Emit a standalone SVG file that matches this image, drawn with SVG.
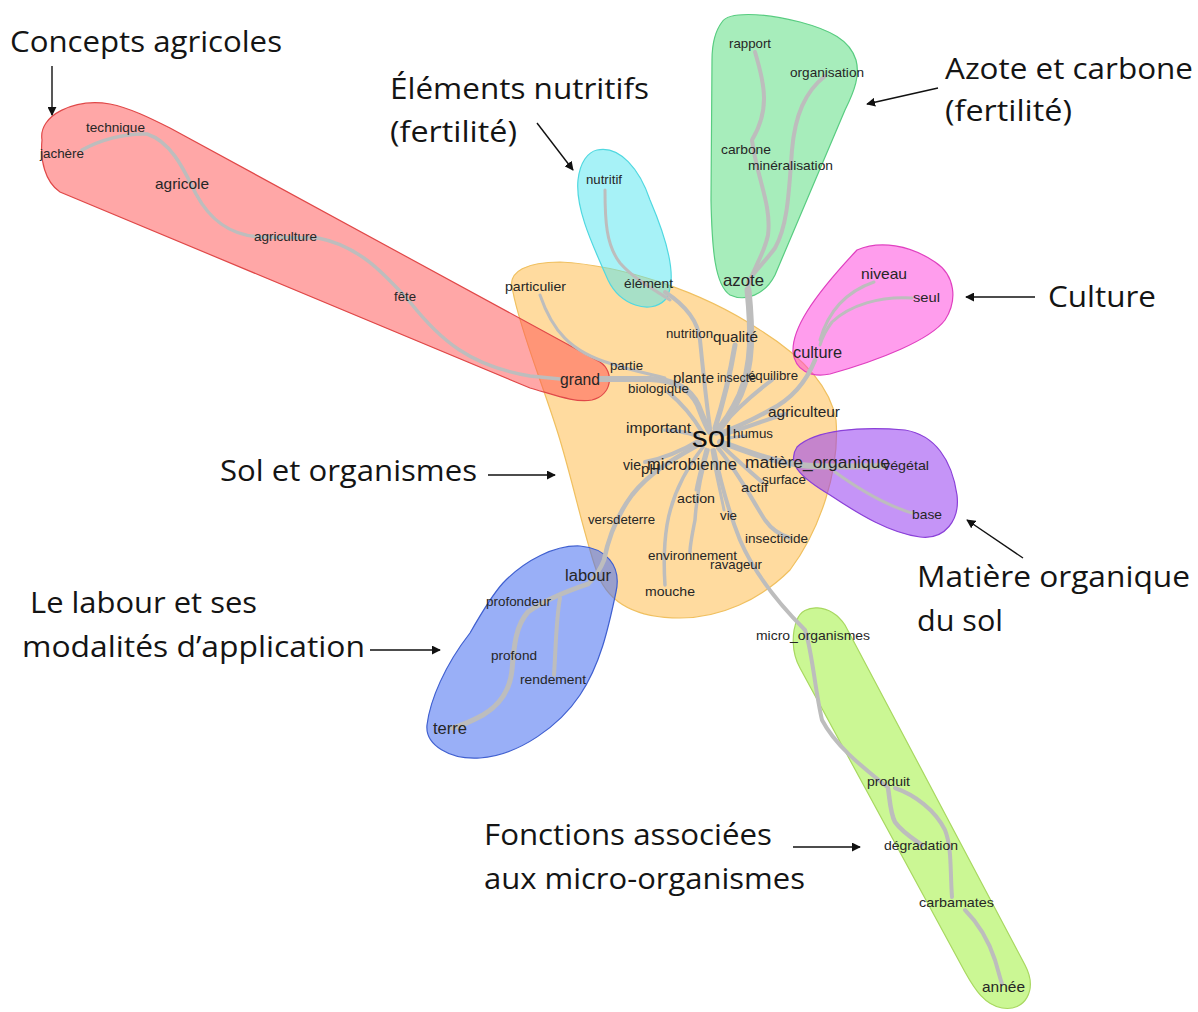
<svg xmlns="http://www.w3.org/2000/svg" width="1198" height="1012" viewBox="0 0 1198 1012">
<style>
.w{font-family:"Liberation Sans",Arial,sans-serif;font-size:13px;fill:#262626}
.a{font-family:"Open Sans","Noto Sans",sans-serif;font-size:30px;fill:#141414}
.e{fill:none;stroke:#bdbdbd;stroke-linecap:round;stroke-linejoin:round}
.ar{stroke:#111;stroke-width:1.4;fill:none}
</style>
<defs>
<marker id="ah" viewBox="0 0 10 10" refX="9" refY="5" markerWidth="9" markerHeight="9" markerUnits="userSpaceOnUse" orient="auto">
<path d="M0,0 L10,5 L0,10 z" fill="#111"/>
</marker>
</defs>
<rect width="1198" height="1012" fill="#fff"/>

<g id="halos">
<path id="h-sol" d="M513,292 C505,270 530,262 560,262 C620,265 700,290 760,330 C800,355 830,385 836,420 C840,470 820,530 790,570 C760,600 720,618 680,618 C640,618 610,605 598,575 C585,540 575,490 560,440 C545,390 520,330 513,292 Z" fill="rgb(255,190,80)" fill-opacity="0.55" stroke="#f0c060" stroke-width="1.2"/>
<path id="h-agri" d="M42,140 C38,115 75,98 110,104 C130,108 150,118 170,128 L600,362 C615,372 612,395 592,400 C575,403 555,395 530,388 L60,192 C45,182 40,160 42,140 Z" fill="rgb(255,80,80)" fill-opacity="0.5" stroke="#e04848" stroke-width="1.2"/>
<path id="h-nutri" d="M597,150 C620,145 640,170 650,200 C665,235 680,280 665,300 C650,315 620,305 608,280 C595,250 575,210 578,180 C580,162 588,152 597,150 Z" fill="rgb(80,230,240)" fill-opacity="0.5" stroke="#50d8e0" stroke-width="1.2"/>
<path id="h-azote" d="M722,22 C728,12 760,12 800,22 C830,30 850,40 856,60 C860,75 855,90 845,110 L775,275 C765,295 745,302 730,295 C715,285 712,250 711,200 L712,60 C712,40 716,30 722,22 Z" fill="rgb(80,220,120)" fill-opacity="0.5" stroke="#58cc80" stroke-width="1.2"/>
<path id="h-culture" d="M857,250 C880,240 910,245 935,262 C955,275 958,300 945,320 C930,340 880,360 830,374 C810,378 795,370 793,352 C792,330 810,300 857,250 Z" fill="rgb(255,60,220)" fill-opacity="0.5" stroke="#e040c0" stroke-width="1.2"/>
<path id="h-mo" d="M797,447 C815,430 860,426 905,430 C935,435 952,460 957,495 C960,520 945,540 920,537 C890,533 860,515 830,495 C805,480 785,465 797,447 Z" fill="rgb(150,60,240)" fill-opacity="0.55" stroke="#8a40d8" stroke-width="1.2"/>
<path id="h-labour" d="M503,583 C525,560 555,545 580,546 C605,548 622,565 616,592 C608,630 600,665 580,695 C560,725 520,755 480,758 C450,760 425,745 427,725 C430,700 445,665 470,633 C482,612 492,595 503,583 Z" fill="rgb(70,110,240)" fill-opacity="0.55" stroke="#4060d0" stroke-width="1.2"/>
<path id="h-micro" d="M797,620 C803,603 830,603 845,625 L1025,965 C1038,990 1025,1012 1002,1008 C985,1005 975,990 965,972 L800,668 C791,652 792,632 797,620 Z" fill="rgb(160,240,60)" fill-opacity="0.55" stroke="#a8d860" stroke-width="1.2"/>
</g>

<g id="connectors">
<path class="e" stroke-width="3.5" d="M82,150 C100,140 125,133 147,134 C172,142 185,172 196,194 C210,220 230,236 262,237 L318,238 C360,246 385,275 410,302 C440,340 470,366 530,376 L560,379"/>
<path class="e" stroke-width="6" d="M600,379 L650,379 C675,380 690,388 698,405 C703,418 706,426 710,432"/>
<path class="e" stroke-width="3" d="M540,295 C552,330 570,352 612,364 C630,370 650,374 665,378"/>
<path class="e" stroke-width="3" d="M605,190 C605,220 606,245 620,263 C635,280 655,290 670,300"/>
<path class="e" stroke-width="4" d="M665,292 C685,305 698,320 700,340 C703,370 706,400 710,428"/>
<path class="e" stroke-width="4" d="M755,52 C765,85 770,110 752,140 C756,175 772,205 768,235 C764,255 752,270 748,288"/>
<path class="e" stroke-width="4" d="M825,76 C805,92 795,115 792,150 C789,190 788,225 775,248 C765,262 755,270 748,282"/>
<path class="e" stroke-width="7" d="M748,290 C752,330 753,365 740,395 C732,412 724,424 716,432"/>
<path class="e" stroke-width="5" d="M735,345 C730,375 724,400 715,428"/>
<path class="e" stroke-width="3" d="M874,282 C845,292 828,312 820,340"/>
<path class="e" stroke-width="3" d="M912,298 C880,296 850,305 832,322 C826,330 822,338 820,345"/>
<path class="e" stroke-width="4.5" d="M815,360 C805,385 790,400 770,410 C752,420 735,428 720,433"/>
<path class="e" stroke-width="4" d="M772,380 C752,395 735,410 718,430"/>
<path class="e" stroke-width="3" d="M728,438 L745,436"/>
<path class="e" stroke-width="6" d="M720,442 C745,450 765,460 800,465 C830,468 860,466 883,466"/>
<path class="e" stroke-width="3" d="M835,472 C860,490 885,505 912,513"/>
<path class="e" stroke-width="4" d="M722,446 C735,458 748,470 762,482"/>
<path class="e" stroke-width="4" d="M718,448 C740,475 752,500 765,520 C772,530 780,535 790,538"/>
<path class="e" stroke-width="4" d="M714,450 C720,480 728,510 740,540 C755,575 780,605 805,630 C812,650 815,690 822,720 C835,745 860,765 886,786"/>
<path class="e" stroke-width="3" d="M712,450 C715,470 720,490 724,510"/>
<path class="e" stroke-width="3.5" d="M708,450 C702,470 697,490 695,520 C692,535 690,545 690,552"/>
<path class="e" stroke-width="3" d="M706,449 C702,465 698,478 696,490"/>
<path class="e" stroke-width="3.5" d="M703,447 C685,470 672,495 667,525 C663,550 664,570 665,585"/>
<path class="e" stroke-width="4.5" d="M700,444 C675,458 650,472 632,495 C615,518 608,540 604,560 C600,570 596,576 590,582"/>
<path class="e" stroke-width="4" d="M700,440 C680,452 665,458 645,462"/>
<path class="e" stroke-width="4" d="M698,436 C685,432 675,430 665,430"/>
<path class="e" stroke-width="4" d="M702,432 C692,415 680,402 668,392"/>
<path class="e" stroke-width="4" d="M722,435 C745,428 765,420 785,414"/>
<path class="e" stroke-width="5" d="M588,584 C570,590 545,600 528,612 C516,625 514,645 512,670 C510,690 500,705 483,715 C470,722 460,726 452,728"/>
<path class="e" stroke-width="4" d="M560,598 C556,620 556,645 554,675"/>
<path class="e" stroke-width="4.5" d="M888,788 C890,800 890,812 895,822 C902,832 912,838 922,845"/>
<path class="e" stroke-width="4" d="M895,788 C915,795 935,810 945,830 C952,848 950,870 952,897"/>
<path class="e" stroke-width="4" d="M965,910 C980,925 990,945 995,960 C998,970 1000,978 1002,984"/>
</g>

<g id="words">
<text class="w" x="729" y="48" textLength="42" lengthAdjust="spacingAndGlyphs">rapport</text>
<text class="w" x="790" y="77" textLength="74" lengthAdjust="spacingAndGlyphs">organisation</text>
<text class="w" x="721" y="154" textLength="50" lengthAdjust="spacingAndGlyphs">carbone</text>
<text class="w" x="748" y="170" textLength="85" lengthAdjust="spacingAndGlyphs">minéralisation</text>
<text class="w" x="723" y="286" textLength="41" lengthAdjust="spacingAndGlyphs" style="font-size:17px">azote</text>
<text class="w" x="586" y="184" textLength="36" lengthAdjust="spacingAndGlyphs">nutritif</text>
<text class="w" x="624" y="288" textLength="49" lengthAdjust="spacingAndGlyphs">élément</text>
<text class="w" x="505" y="291" textLength="61" lengthAdjust="spacingAndGlyphs">particulier</text>
<text class="w" x="86" y="132" textLength="59" lengthAdjust="spacingAndGlyphs">technique</text>
<text class="w" x="40" y="158" textLength="44" lengthAdjust="spacingAndGlyphs">jachère</text>
<text class="w" x="155" y="189" textLength="54" lengthAdjust="spacingAndGlyphs" style="font-size:15px">agricole</text>
<text class="w" x="254" y="241" textLength="63" lengthAdjust="spacingAndGlyphs">agriculture</text>
<text class="w" x="394" y="301" textLength="22" lengthAdjust="spacingAndGlyphs">fête</text>
<text class="w" x="560" y="385" textLength="40" lengthAdjust="spacingAndGlyphs" style="font-size:16px">grand</text>
<text class="w" x="861" y="279" textLength="46" lengthAdjust="spacingAndGlyphs" style="font-size:15px">niveau</text>
<text class="w" x="913" y="302" textLength="27" lengthAdjust="spacingAndGlyphs">seul</text>
<text class="w" x="793" y="358" textLength="49" lengthAdjust="spacingAndGlyphs" style="font-size:16px">culture</text>
<text class="w" x="666" y="338" textLength="47" lengthAdjust="spacingAndGlyphs">nutrition</text>
<text class="w" x="713" y="342" textLength="45" lengthAdjust="spacingAndGlyphs" style="font-size:15px">qualité</text>
<text class="w" x="610" y="370" textLength="33" lengthAdjust="spacingAndGlyphs">partie</text>
<text class="w" x="673" y="383" textLength="41" lengthAdjust="spacingAndGlyphs" style="font-size:15px">plante</text>
<text class="w" x="717" y="382" textLength="39" lengthAdjust="spacingAndGlyphs">insecte</text>
<text class="w" x="748" y="380" textLength="50" lengthAdjust="spacingAndGlyphs">équilibre</text>
<text class="w" x="628" y="393" textLength="61" lengthAdjust="spacingAndGlyphs">biologique</text>
<text class="w" x="768" y="417" textLength="72" lengthAdjust="spacingAndGlyphs" style="font-size:15px">agriculteur</text>
<text class="w" x="626" y="433" textLength="65" lengthAdjust="spacingAndGlyphs" style="font-size:15px">important</text>
<text class="w" x="692" y="447" textLength="40" lengthAdjust="spacingAndGlyphs" style="font-size:30px;fill:#111">sol</text>
<text class="w" x="733" y="438" textLength="40" lengthAdjust="spacingAndGlyphs">humus</text>
<text class="w" x="623" y="470" textLength="18" lengthAdjust="spacingAndGlyphs" style="font-size:15px">vie</text>
<text class="w" x="641" y="474" textLength="19" lengthAdjust="spacingAndGlyphs" style="font-size:15px">pH</text>
<text class="w" x="647" y="470" textLength="90" lengthAdjust="spacingAndGlyphs" style="font-size:16px">microbienne</text>
<text class="w" x="745" y="468" textLength="145" lengthAdjust="spacingAndGlyphs" style="font-size:16px">matière_organique</text>
<text class="w" x="883" y="470" textLength="46" lengthAdjust="spacingAndGlyphs">végétal</text>
<text class="w" x="762" y="484" textLength="44" lengthAdjust="spacingAndGlyphs">surface</text>
<text class="w" x="741" y="492" textLength="27" lengthAdjust="spacingAndGlyphs">actif</text>
<text class="w" x="677" y="503" textLength="38" lengthAdjust="spacingAndGlyphs">action</text>
<text class="w" x="720" y="520" textLength="17" lengthAdjust="spacingAndGlyphs">vie</text>
<text class="w" x="588" y="524" textLength="67" lengthAdjust="spacingAndGlyphs">versdeterre</text>
<text class="w" x="745" y="543" textLength="63" lengthAdjust="spacingAndGlyphs">insecticide</text>
<text class="w" x="648" y="560" textLength="89" lengthAdjust="spacingAndGlyphs">environnement</text>
<text class="w" x="710" y="569" textLength="52" lengthAdjust="spacingAndGlyphs">ravageur</text>
<text class="w" x="645" y="596" textLength="50" lengthAdjust="spacingAndGlyphs">mouche</text>
<text class="w" x="565" y="581" textLength="46" lengthAdjust="spacingAndGlyphs" style="font-size:16px">labour</text>
<text class="w" x="756" y="640" textLength="114" lengthAdjust="spacingAndGlyphs">micro_organismes</text>
<text class="w" x="912" y="519" textLength="30" lengthAdjust="spacingAndGlyphs">base</text>
<text class="w" x="486" y="606" textLength="65" lengthAdjust="spacingAndGlyphs">profondeur</text>
<text class="w" x="491" y="660" textLength="46" lengthAdjust="spacingAndGlyphs">profond</text>
<text class="w" x="520" y="684" textLength="66" lengthAdjust="spacingAndGlyphs">rendement</text>
<text class="w" x="433" y="734" textLength="34" lengthAdjust="spacingAndGlyphs" style="font-size:16px">terre</text>
<text class="w" x="867" y="786" textLength="43" lengthAdjust="spacingAndGlyphs">produit</text>
<text class="w" x="884" y="850" textLength="74" lengthAdjust="spacingAndGlyphs">dégradation</text>
<text class="w" x="919" y="907" textLength="75" lengthAdjust="spacingAndGlyphs">carbamates</text>
<text class="w" x="982" y="992" textLength="43" lengthAdjust="spacingAndGlyphs" style="font-size:15px">année</text>
</g>

<g id="annotations">
<text class="a" x="10" y="52" textLength="272" lengthAdjust="spacingAndGlyphs">Concepts agricoles</text>
<line class="ar" x1="52" y1="66" x2="52" y2="115" marker-end="url(#ah)"/>
<text class="a" x="390" y="99" textLength="259" lengthAdjust="spacingAndGlyphs">Éléments nutritifs</text>
<text class="a" x="390" y="142" textLength="127" lengthAdjust="spacingAndGlyphs">(fertilité)</text>
<line class="ar" x1="537" y1="123" x2="573" y2="170" marker-end="url(#ah)"/>
<text class="a" x="945" y="79" textLength="248" lengthAdjust="spacingAndGlyphs">Azote et carbone</text>
<text class="a" x="945" y="121" textLength="127" lengthAdjust="spacingAndGlyphs">(fertilité)</text>
<line class="ar" x1="938" y1="88" x2="867" y2="104" marker-end="url(#ah)"/>
<text class="a" x="1048" y="307" textLength="108" lengthAdjust="spacingAndGlyphs">Culture</text>
<line class="ar" x1="1035" y1="297" x2="966" y2="297" marker-end="url(#ah)"/>
<text class="a" x="917" y="587" textLength="273" lengthAdjust="spacingAndGlyphs">Matière organique</text>
<text class="a" x="917" y="631" textLength="86" lengthAdjust="spacingAndGlyphs">du sol</text>
<line class="ar" x1="1023" y1="558" x2="967" y2="520" marker-end="url(#ah)"/>
<text class="a" x="220" y="481" textLength="257" lengthAdjust="spacingAndGlyphs">Sol et organismes</text>
<line class="ar" x1="488" y1="475" x2="555" y2="475" marker-end="url(#ah)"/>
<text class="a" x="30" y="613" textLength="227" lengthAdjust="spacingAndGlyphs">Le labour et ses</text>
<text class="a" x="22" y="657" textLength="343" lengthAdjust="spacingAndGlyphs">modalités d’application</text>
<line class="ar" x1="370" y1="650" x2="440" y2="650" marker-end="url(#ah)"/>
<text class="a" x="484" y="845" textLength="288" lengthAdjust="spacingAndGlyphs">Fonctions associées</text>
<text class="a" x="484" y="889" textLength="321" lengthAdjust="spacingAndGlyphs">aux micro-organismes</text>
<line class="ar" x1="793" y1="847" x2="860" y2="847" marker-end="url(#ah)"/>
</g>
</svg>
